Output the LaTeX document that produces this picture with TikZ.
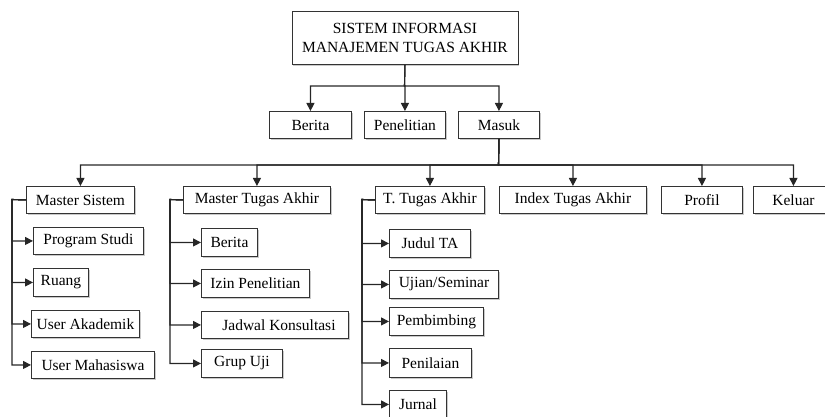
\documentclass[tikz,border=0pt]{standalone}
\usepackage{fontspec}
\setmainfont{Liberation Serif}
\usetikzlibrary{arrows.meta,shadows}
\tikzset{
  menu/.style={draw=black!80, fill=white, inner sep=0pt, anchor=north west, line width=0.9pt,
    minimum height=27, font=\fontsize{15.5}{19}\selectfont,
    drop shadow={shadow xshift=1.2pt, shadow yshift=-1.2pt, fill=black!35, opacity=.6}},
  link/.style={draw=black!85, line width=1.1pt},
}
\begin{document}
\begin{tikzpicture}[x=1pt,y=-1pt,>={Triangle[length=8pt,width=8pt]}]
  \useasboundingbox (0,0) rectangle (825,417);
  \clip (0,0) rectangle (825,417);

  \node[menu, minimum width=226, minimum height=53, align=center] (sim) at (291.5,11) {SISTEM INFORMASI\\MANAJEMEN TUGAS AKHIR};

  \node[menu, minimum width=82] (berita) at (269,111) {Berita};
  \node[menu, minimum width=81] (penelitian) at (364,111) {Penelitian};
  \node[menu, minimum width=81] (masuk) at (458,111) {Masuk};

  \node[menu, minimum width=108] (msistem) at (26,186) {Master Sistem};
  \node[menu, minimum width=147] (mta) at (183,186) {Master Tugas Akhir};
  \node[menu, minimum width=109] (tta) at (375,186) {T. Tugas Akhir};
  \node[menu, minimum width=147] (index) at (499,186) {Index Tugas Akhir};
  \node[menu, minimum width=81] (profil) at (661,186) {Profil};
  \node[menu, minimum width=80] (keluar) at (753,186) {Keluar};

  \node[menu, minimum width=110] (prodi) at (33,227) {Program Studi};
  \node[menu, minimum width=55, minimum height=28] (ruang) at (33,268) {Ruang};
  \node[menu, minimum width=108] (uakad) at (31,310) {User Akademik};
  \node[menu, minimum width=123] (umhs) at (31,351) {User Mahasiswa};

  \node[menu, minimum width=56, minimum height=28] (mberita) at (201,228) {Berita};
  \node[menu, minimum width=108, minimum height=28] (izin) at (201,269) {Izin Penelitian};
  \node[menu, minimum width=147] (jadwal) at (201,311) {\hspace{8pt}Jadwal Konsultasi};
  \node[menu, minimum width=81, minimum height=28] (grup) at (201,349) {Grup Uji};

  \node[menu, minimum width=81, minimum height=28] (judul) at (389,229) {Judul TA};
  \node[menu, minimum width=109, minimum height=28] (ujian) at (389,270) {Ujian/Seminar};
  \node[menu, minimum width=94, minimum height=28] (bimbing) at (389,307) {Pembimbing};
  \node[menu, minimum width=82, minimum height=29] (nilai) at (389,348) {Penilaian};
  \node[menu, minimum width=57, minimum height=28] (jurnal) at (389,390) {Jurnal};

  \coordinate (bus1) at (404.5,86);
  \coordinate (bus2) at (498.5,165);
  \coordinate (msl) at (12,199.5);
  \coordinate (mtal) at (170,199.5);
  \coordinate (ttal) at (362,199.5);

  \foreach \n in {berita,penelitian,masuk}
    \draw[link,->] (sim.south) -- (bus1) -| (\n);

  \foreach \n in {msistem,mta,tta,index,profil,keluar}
    \draw[link,->] (masuk.south) -- (bus2) -| (\n);

  \foreach \n in {prodi,ruang,uakad,umhs}
    \draw[link,->] (msistem.west) -- (msl) |- (\n);
  \foreach \n in {mberita,izin,jadwal,grup}
    \draw[link,->] (mta.west) -- (mtal) |- (\n);
  \foreach \n in {judul,ujian,bimbing,nilai,jurnal}
    \draw[link,->] (tta.west) -- (ttal) |- (\n);
\end{tikzpicture}
\end{document}
